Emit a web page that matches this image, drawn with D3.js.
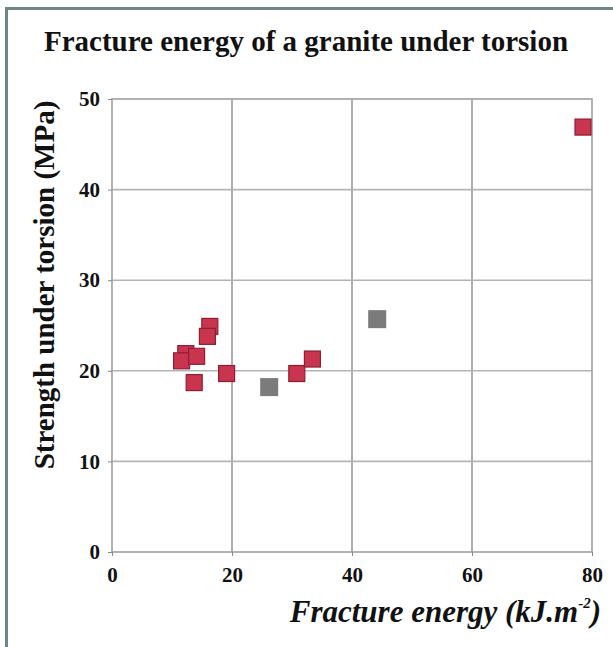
<!DOCTYPE html>
<html>
<head>
<meta charset="utf-8">
<script src="https://cdn.jsdelivr.net/npm/d3@7"></script>
<style>
  body { margin: 0; background: #fff; }
  svg { display: block; }
  text { font-family: "Liberation Serif", "Times New Roman", serif; font-weight: bold; fill: #111; }
</style>
</head>
<body>
<div id="chart"></div>
<script>
// red series
const energy   = [16.3, 15.9, 12.3, 11.6, 14.1, 13.7, 19.1, 30.8, 33.4, 78.5]
const strength = [24.9, 23.8, 21.9, 21.1, 21.6, 18.7, 19.7, 19.7, 21.3, 46.9]
// grey series
const greyEnergy   = [26.2, 44.2]
const greyStrength = [18.2, 25.7]
const xTicks = [0, 20, 40, 60, 80]
const yTicks = [0, 10, 20, 30, 40, 50]

const W = 613, H = 647
const m = { left: 112, right: 21, top: 99, bottom: 95 }

const svg = d3.select('#chart').append('svg')
    .attr('width', W)
    .attr('height', H)

// outer frame (top + left only, like the scan)
svg.append('line').attr('x1', 5).attr('x2', W).attr('y1', 8.5).attr('y2', 8.5)
    .attr('stroke', '#6d8787').attr('stroke-width', 3)
svg.append('line').attr('x1', 6.5).attr('x2', 6.5).attr('y1', 7).attr('y2', H)
    .attr('stroke', '#6d8787').attr('stroke-width', 3)

const x = d3.scaleLinear().domain([0, 80]).range([m.left, W - m.right])
const y = d3.scaleLinear().domain([0, 50]).range([H - m.bottom, m.top])

// grid
const grid = svg.append('g')
grid.selectAll('.gx').data(xTicks.slice(1, -1)).enter().append('line')
    .attr('x1', d => x(d)).attr('x2', d => x(d))
    .attr('y1', y(50)).attr('y2', y(0))
    .attr('stroke', '#9a9a9a').attr('stroke-width', 1.6)
grid.selectAll('.gy').data(yTicks.slice(1, -1)).enter().append('line')
    .attr('x1', x(0)).attr('x2', x(80))
    .attr('y1', d => y(d)).attr('y2', d => y(d))
    .attr('stroke', '#b4b4b4').attr('stroke-width', 1.6)

// plot frame
svg.append('rect')
    .attr('x', x(0)).attr('y', y(50))
    .attr('width', x(80) - x(0)).attr('height', y(0) - y(50))
    .attr('fill', 'none').attr('stroke', '#a0a0a0').attr('stroke-width', 1.6)

// axes
const xAxis = svg.append('g')
    .attr('transform', `translate(0,${y(0)})`)
    .call(d3.axisBottom(x).tickValues(xTicks).tickSize(4).tickPadding(11))
const yAxis = svg.append('g')
    .attr('transform', `translate(${x(0)},0)`)
    .call(d3.axisLeft(y).tickValues(yTicks).tickSize(4).tickPadding(8))
;[xAxis, yAxis].forEach(a => {
    a.attr('font-family', null).attr('font-size', null)
    a.select('.domain').remove()
    a.selectAll('.tick line').attr('stroke', '#888')
    a.selectAll('.tick text')
        .style('font-family', '"Liberation Serif", serif')
        .style('font-weight', 'bold')
        .style('font-size', '21px')
        .attr('fill', '#111')
})

// points
const sz = 16
svg.append('g').selectAll('rect')
    .data(greyEnergy.map((e, i) => [e, greyStrength[i]]))
    .enter().append('rect')
    .attr('x', d => x(d[0]) - 9).attr('y', d => y(d[1]) - 9)
    .attr('width', 18).attr('height', 18)
    .attr('fill', '#7b7b7b')
svg.append('g').selectAll('rect')
    .data(energy.map((e, i) => [e, strength[i]]))
    .enter().append('rect')
    .attr('x', d => x(d[0]) - sz / 2).attr('y', d => y(d[1]) - sz / 2)
    .attr('width', sz).attr('height', sz)
    .attr('fill', '#c9344e').attr('stroke', '#8e1f33').attr('stroke-width', 1.2)

// title
svg.append('text')
    .attr('x', 306).attr('y', 51)
    .attr('text-anchor', 'middle')
    .style('font-size', '29px')
    .text('Fracture energy of a granite under torsion')

// y label
svg.append('text')
    .attr('transform', 'translate(54,285) rotate(-90)')
    .attr('text-anchor', 'middle')
    .style('font-size', '29px')
    .text('Strength under torsion (MPa)')

// x label
const xl = svg.append('text')
    .attr('x', 601).attr('y', 622)
    .attr('text-anchor', 'end')
    .style('font-size', '31px')
    .style('font-style', 'italic')
xl.append('tspan').text('Fracture energy (kJ.m')
xl.append('tspan').attr('dy', -14).style('font-size', '15px').text('-2')
xl.append('tspan').attr('dy', 14).text(')')
</script>
</body>
</html>
